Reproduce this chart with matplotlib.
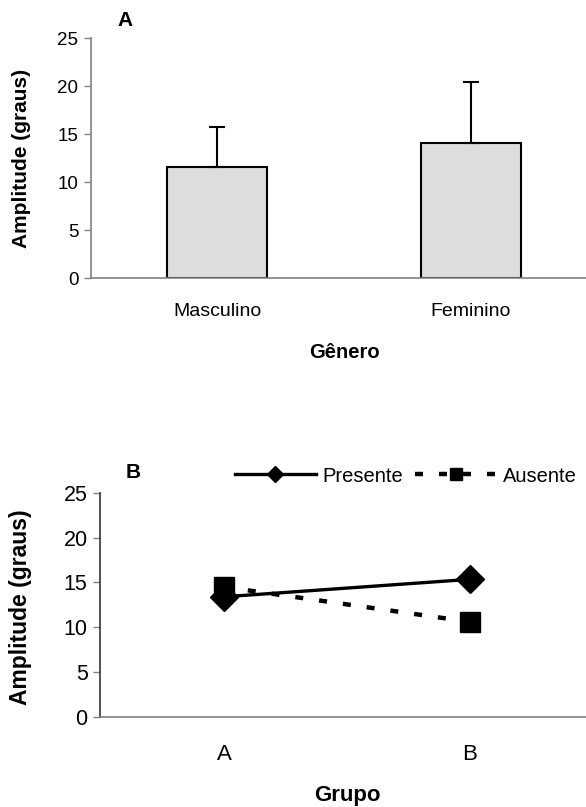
import numpy as np
import matplotlib
matplotlib.use("Agg")
import matplotlib.pyplot as plt

plt.rcParams['font.family'] = ['Liberation Sans', 'DejaVu Sans']

# ---- data ----
generos = ["Masculino", "Feminino"]
amplitude_genero = [11.55, 14.05]
dp_genero = [4.25, 6.4]

grupos = ["A", "B"]
presente = [13.4, 15.35]
ausente = [14.5, 10.6]
yticks = [0, 5, 10, 15, 20, 25]

W, H = 586, 807
fig = plt.figure(figsize=(W / 100, H / 100), dpi=100)


def fx(x):
    return x / W


def fy(y):
    return 1 - y / H


GRAY = "#808080"

# ---------------- Panel A ----------------
axA = fig.add_axes([fx(90.8), fy(278.3), fx(586 - 90.8), (278.3 - 38.3) / H])
xA = np.arange(len(generos))
axA.bar(xA, amplitude_genero, width=0.394, color="#DDDDDD", edgecolor="black",
        linewidth=1.5, zorder=2)
axA.errorbar(xA, amplitude_genero, yerr=[np.zeros(len(dp_genero)), dp_genero],
             fmt="none", ecolor="black", elinewidth=1.5, capsize=6, capthick=1.5,
             zorder=3)
axA.set_xlim(-0.497, 1.453)
axA.set_ylim(0, 25)
axA.set_yticks(yticks)
axA.set_xticks(xA)
axA.set_xticklabels(generos, fontsize=14)
axA.tick_params(axis="x", length=0, pad=17.5)
axA.tick_params(axis="y", labelsize=13.5, length=5, width=1, color=GRAY, pad=4)
for s in ["top", "right"]:
    axA.spines[s].set_visible(False)
for s in ["left", "bottom"]:
    axA.spines[s].set_color(GRAY)
    axA.spines[s].set_linewidth(1.2)

fig.text(fx(21.5), fy(158), "Amplitude (graus)", rotation=90, ha="center",
         va="center", fontsize=15, fontweight="bold")
fig.text(fx(344), fy(352), "Gênero", ha="center", va="center", fontsize=14.5,
         fontweight="bold")
fig.text(fx(125.5), fy(21), "A", ha="center", va="center", fontsize=15,
         fontweight="bold")

# ---------------- Panel B ----------------
axB = fig.add_axes([fx(100.1), fy(716.7), fx(586 - 100.1), (716.7 - 493) / H])
xB = np.arange(len(grupos))
axB.plot(xB, presente, color="black", linewidth=2.4, marker="D", markersize=14,
         label="Presente", zorder=3)
axB.plot(xB, ausente, color="black", linewidth=3.2, dashes=(1.8, 3.6),
         marker="s", markersize=15, label="Ausente", zorder=3)
axB.set_xlim(-0.504, 1.472)
axB.set_ylim(0, 25)
axB.set_yticks(yticks)
axB.set_xticks(xB)
axB.set_xticklabels(grupos, fontsize=16)
axB.tick_params(axis="x", length=0, pad=20)
axB.tick_params(axis="y", labelsize=15.5, length=5, width=1, color=GRAY, pad=4)
for s in ["top", "right"]:
    axB.spines[s].set_visible(False)
axB.spines["left"].set_color("#333333")
axB.spines["bottom"].set_color(GRAY)
for s in ["left", "bottom"]:
    axB.spines[s].set_linewidth(1.2)

fig.text(fx(21), fy(607), "Amplitude (graus)", rotation=90, ha="center",
         va="center", fontsize=16.5, fontweight="bold")
fig.text(fx(347.5), fy(801), "Grupo", ha="center", va="baseline", fontsize=16,
         fontweight="bold")
fig.text(fx(133), fy(473), "B", ha="center", va="center", fontsize=15,
         fontweight="bold")

leg = axB.legend(loc="center left", bbox_to_anchor=(fx(235), fy(476)),
                 bbox_transform=fig.transFigure, ncol=2, frameon=False,
                 fontsize=14.5, handlelength=4.0, handletextpad=0.35,
                 columnspacing=0.6, borderpad=0, borderaxespad=0,
                 markerscale=0.6)

fig.savefig("out.png", dpi=100)
